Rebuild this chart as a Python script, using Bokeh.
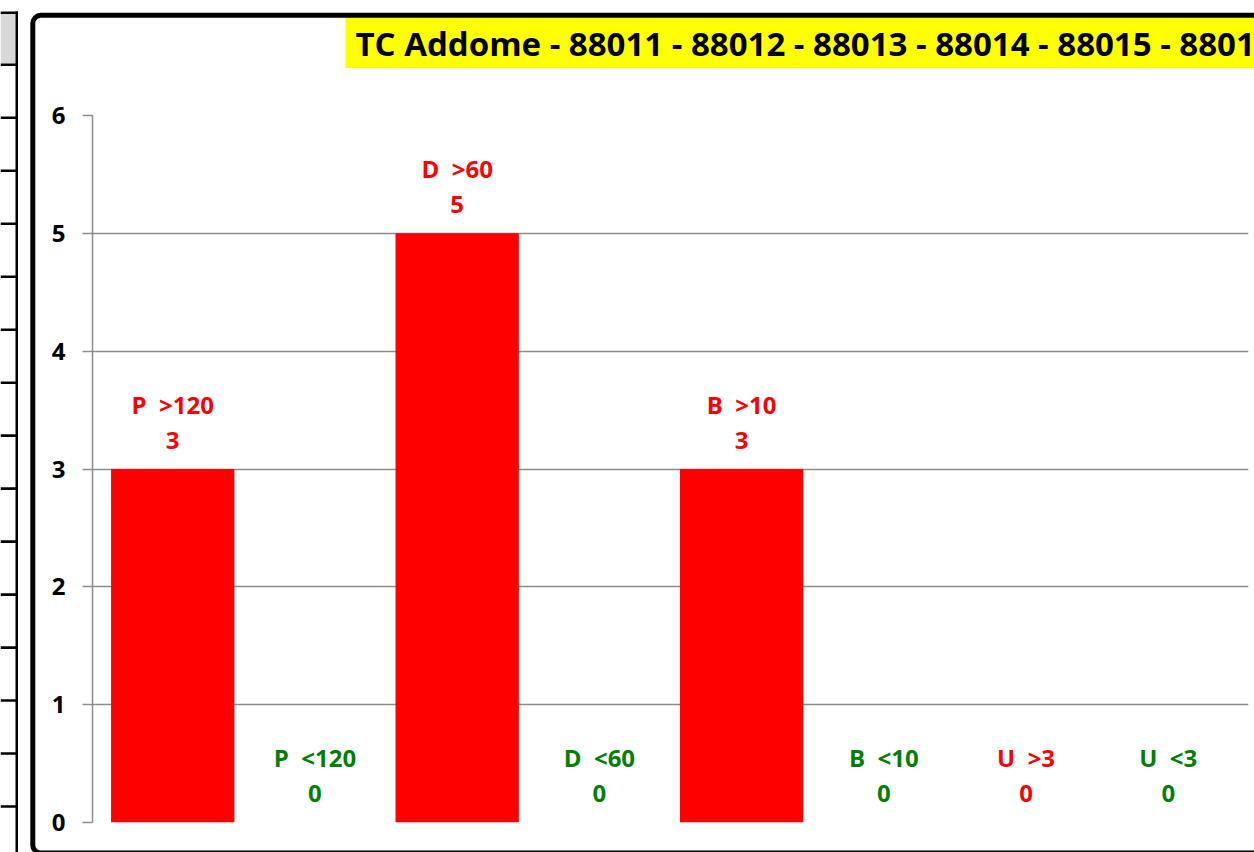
from bokeh.plotting import figure
from bokeh.layouts import column
from bokeh.models import ColumnDataSource, FactorRange, Range1d
from bokeh.core.properties import value
from bokeh.embed import file_html
from bokeh.resources import INLINE

# ---- data ----
categories = ["P >120", "P <120", "D >60", "D <60", "B >10", "B <10", "U >3", "U <3"]
counts = [3, 0, 5, 0, 3, 0, 0, 0]
y_ticks = [0, 1, 2, 3, 4, 5, 6]
title_text = "TC Addome - 88011 - 88012 - 88013 - 88014 - 88015 - 88016"

RED = "#FF0000"
GREEN = "#008000"
FONT = "Open Sans"
GRID = "#8C8C8C"
W, H = 1254, 852
label_colors = [RED if ">" in c else GREEN for c in categories]

src = ColumnDataSource(dict(
    cat=categories,
    val=counts,
    name_txt=[c.replace(" ", "\u00a0 ") for c in categories],
    val_txt=[str(v) for v in counts],
    color=label_colors,
))

pos = {"position": "absolute", "left": "0px", "top": "0px"}

# ---------- background sheet: spreadsheet strip, chart border, title ----------
deco = figure(width=W, height=H, x_range=Range1d(0, W), y_range=Range1d(H, 0),
              x_axis_location=None, y_axis_location=None, min_border=0,
              output_backend="svg", toolbar_location=None, title=None)
deco.grid.visible = False
deco.outline_line_color = None
deco.background_fill_color = "white"
deco.border_fill_color = "white"
deco.styles = dict(pos)

# spreadsheet cells on the far left
deco.quad(left=0, right=15, top=13, bottom=63, fill_color="#D9D9D9", line_color=None)
deco.quad(left=0, right=17.5, top=11, bottom=13.5, fill_color="black", line_color=None)
deco.quad(left=15, right=17.5, top=11, bottom=H, fill_color="black", line_color=None)
rows_y = [64.3 + 52.98 * k for k in range(15)]
deco.quad(left=0, right=17.5, top=[y - 1.3 for y in rows_y], bottom=[y + 1.3 for y in rows_y],
          fill_color="black", line_color=None)

# chart area border
deco.quad(left=32.3, right=1300, top=14.8, bottom=852.5, fill_color=None,
          line_color="black", line_width=5, border_radius=8)

# yellow title box and title
deco.quad(left=345, right=1300, top=17.5, bottom=67.5, fill_color="#FFFF00", line_color=None)
deco.text(x=[355], y=[43], text=[title_text], text_align="left", text_baseline="middle",
          text_font=value(FONT), text_font_style="bold", text_font_size="33px",
          text_color="black")

# ---------- the chart itself ----------
p = figure(
    width=W, height=H,
    x_range=FactorRange(factors=categories, range_padding=0.064, range_padding_units="absolute"),
    y_range=Range1d(0, 6),
    x_axis_location=None,
    output_backend="svg", toolbar_location=None, title=None,
    min_border_left=92, min_border_right=6, min_border_top=115, min_border_bottom=30,
)
p.styles = dict(pos)
p.outline_line_color = None
p.background_fill_color = None
p.border_fill_color = None

for fig in (deco, p):
    if "frame_align" in fig.properties():
        fig.frame_align = False

p.vbar(x="cat", top="val", width=0.867, source=src, fill_color=RED, line_color=None)

common = dict(text_align="center", text_baseline="middle",
              text_font=value(FONT), text_font_style="bold", text_font_size="24px",
              text_color="color", source=src)
p.text(x="cat", y="val", text="name_txt", y_offset=-65, **common)
p.text(x="cat", y="val", text="val_txt", y_offset=-29, **common)

ax = p.yaxis[0]
ax.ticker = y_ticks
ax.axis_line_color = GRID
ax.axis_line_width = 1.5
ax.major_tick_line_color = GRID
ax.major_tick_line_width = 1.5
ax.major_tick_out = 10
ax.major_tick_in = 0
ax.minor_tick_line_color = None
ax.major_label_standoff = 17
ax.major_label_text_font = FONT
ax.major_label_text_font_style = "bold"
ax.major_label_text_font_size = "24px"
ax.major_label_text_color = "black"
p.xgrid.grid_line_color = None
p.ygrid.ticker = y_ticks
p.ygrid.grid_line_color = GRID
p.ygrid.grid_line_width = 1.5

layout = column(deco, p, width=W, height=H, sizing_mode="fixed",
                styles={"position": "absolute", "left": "0px", "top": "0px",
                        "width": f"{W}px", "height": f"{H}px"})

open("out.html", "w").write(file_html(layout, INLINE))
